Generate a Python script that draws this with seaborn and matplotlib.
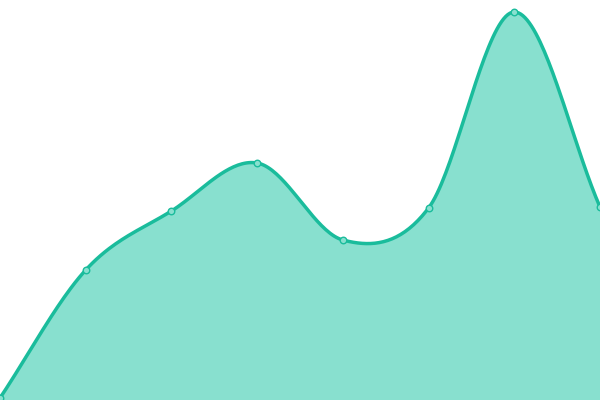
import numpy as np
import pandas as pd
import matplotlib
matplotlib.use('Agg')
import matplotlib.pyplot as plt
import seaborn as sns

# values (pixel-ish scale, 0..400)
steps = [0, 1, 2, 3, 4, 5, 6, 7]
values = [2, 130, 189, 237, 160, 192, 388, 193]

line_color = '#1abc9c'
fill_color = '#88e0cf'

# Catmull-Rom smoothing through the points
def smooth(xs, ys, n=40):
    xs = np.asarray(xs, float)
    ys = np.asarray(ys, float)
    px = np.concatenate([[2 * xs[0] - xs[1]], xs, [2 * xs[-1] - xs[-2]]])
    py = np.concatenate([[2 * ys[0] - ys[1]], ys, [2 * ys[-1] - ys[-2]]])
    ox, oy = [], []
    for i in range(1, len(px) - 2):
        t = np.linspace(0, 1, n, endpoint=False)
        for p, out in ((px, ox), (py, oy)):
            p0, p1, p2, p3 = p[i - 1], p[i], p[i + 1], p[i + 2]
            out.extend(0.5 * (2 * p1 + (-p0 + p2) * t
                              + (2 * p0 - 5 * p1 + 4 * p2 - p3) * t ** 2
                              + (-p0 + 3 * p1 - 3 * p2 + p3) * t ** 3))
    ox.append(xs[-1])
    oy.append(ys[-1])
    return np.array(ox), np.array(oy)

sx, sy = smooth(steps, values)
curve = pd.DataFrame({'x': sx, 'y': sy})
points = pd.DataFrame({'x': steps, 'y': values})

sns.set_style('white')
fig = plt.figure(figsize=(6, 4), dpi=100)
ax = fig.add_axes([0, 0, 1, 1])

ax.fill_between(curve['x'], curve['y'], 0, color=fill_color, linewidth=0)
sns.lineplot(data=curve, x='x', y='y', ax=ax, color=line_color, linewidth=2.5,
             estimator=None, sort=False)
sns.scatterplot(data=points, x='x', y='y', ax=ax, s=22, color=fill_color,
                edgecolor=line_color, linewidth=1, zorder=5, clip_on=False)

ax.set_xlim(0, 7)
ax.set_ylim(0, 400)
ax.set_axis_off()

fig.savefig('out.png', dpi=100)
